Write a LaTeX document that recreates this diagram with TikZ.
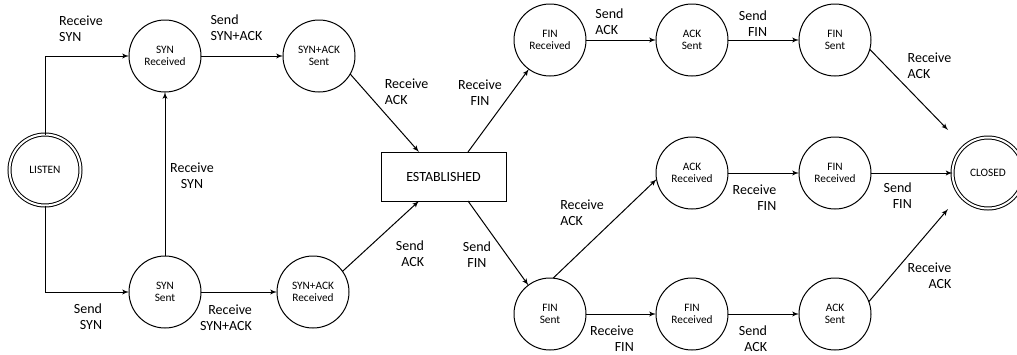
\documentclass[tikz,border=0pt]{standalone}
\usepackage{fontspec}
\setmainfont{Carlito}
\usetikzlibrary{arrows,positioning}
\tikzstyle{state} = [circle, draw, minimum size=54pt, inner sep=0pt, outer sep=0pt,
    align=center, font=\fontsize{8.5}{9.5}\selectfont]
\tikzstyle{final} = [state, double, double distance=1.5pt, minimum size=53.25pt]
\tikzstyle{block} = [rectangle, draw, minimum width=93.75pt, minimum height=36.75pt,
    outer sep=0pt, font=\fontsize{10.5}{12}\selectfont]
\tikzstyle{line} = [draw, -latex']
\tikzstyle{lbl} = [inner sep=0pt, font=\fontsize{10.5}{12}\selectfont]

\begin{document}
\begin{tikzpicture}[x=0.75pt, y=-0.75pt, line width=0.75pt]
    \useasboundingbox (0,0) rectangle (1017,354);
    % Place nodes
    \node [final] (listen) at (45,170) {LISTEN};
    \node [state] (synrcvd) at (165,56) {SYN\\Received};
    \node [state, right of=synrcvd, node distance=115.5pt] (synacksent) {SYN+ACK\\Sent};
    \node [state, below of=synrcvd, node distance=177pt] (synsent) {SYN\\Sent};
    \node [state, right of=synsent, node distance=111pt] (synackrcvd) {SYN+ACK\\Received};
    \node [block] (est) at (443.5,176.5) {ESTABLISHED};
    \node [state] (finrcvd1) at (550,40) {FIN\\Received};
    \node [state, right of=finrcvd1, node distance=106.5pt] (acksent1) {ACK\\Sent};
    \node [state, right of=acksent1, node distance=107.25pt] (finsent1) {FIN\\Sent};
    \node [state, below of=acksent1, node distance=99.75pt] (ackrcvd2) {ACK\\Received};
    \node [state, right of=ackrcvd2, node distance=107.25pt] (finrcvd2) {FIN\\Received};
    \node [state, below of=finrcvd1, node distance=205.5pt] (finsent3) {FIN\\Sent};
    \node [state, right of=finsent3, node distance=106.5pt] (finrcvd3) {FIN\\Received};
    \node [state, right of=finrcvd3, node distance=107.25pt] (acksent3) {ACK\\Sent};
    \node [final] (closed) at (988,173) {CLOSED};
    \coordinate (closedin1) at ([shift={(-40,-43)}]closed.center);
    \coordinate (closedin2) at ([shift={(-40,36)}]closed.center);
    % Draw edges
    \path [line] (listen.north) |- node [lbl, pos=0.75, align=left, shift={(-6,-27.5)}] {Receive\\SYN} (synrcvd.west);
    \path [line] (listen.south) |- node [lbl, pos=0.75, align=right, shift={(1,24.5)}] {Send\\SYN} (synsent.west);
    \path [line] (synrcvd.east) -- node [lbl, align=left, shift={(-5.5,-28)}] {Send\\SYN+ACK} (synacksent.west);
    \path [line] (synsent.north) -- node [lbl, align=center, shift={(27,2)}] {Receive\\SYN} (synrcvd.south);
    \path [line] (synsent.east) -- node [lbl, align=right, shift={(-13,25.5)}] {Receive\\SYN+ACK} (synackrcvd.west);
    \path [line] (synacksent.-30) -- node [lbl, align=left, shift={(22,-21)}] {Receive\\ACK} (est.135);
    \path [line] (synackrcvd.35) -- node [lbl, align=right, shift={(29.3,17.8)}] {Send\\ACK} (est.225);
    \path [line] (est.45) -- node [lbl, align=center, shift={(-18.4,-18)}] {Receive\\FIN} (finrcvd1.234);
    \path [line] (est.-45) -- node [lbl, align=center, shift={(-21.2,11.4)}] {Send\\FIN} (finsent3.127);
    \path [line] (finrcvd1.east) -- node [lbl, align=left, shift={(-11.5,-18.5)}] {Send\\ACK} (acksent1.west);
    \path [line] (acksent1.east) -- node [lbl, align=right, shift={(-10.5,-16.5)}] {Send\\FIN} (finsent1.west);
    \path [line] (finsent1.-15) -- node [lbl, align=left, shift={(20.6,-24.2)}] {Receive\\ACK} (closedin1);
    \path [line] (finsent3.85) -- node [lbl, align=left, shift={(-22.8,-16.2)}] {Receive\\ACK} (ackrcvd2.190);
    \path [line] (finsent3.east) -- node [lbl, align=right, shift={(-9,24.5)}] {Receive\\FIN} (finrcvd3.west);
    \path [line] (ackrcvd2.east) -- node [lbl, align=right, shift={(-9,25)}] {Receive\\FIN} (finrcvd2.west);
    \path [line] (finrcvd2.east) -- node [lbl, align=right, shift={(-14,23)}] {Send\\FIN} (closed.west);
    \path [line] (finrcvd3.east) -- node [lbl, align=right, shift={(-10.5,25)}] {Send\\ACK} (acksent3.west);
    \path [line] (acksent3.20) -- node [lbl, align=right, shift={(21.1,20.6)}] {Receive\\ACK} (closedin2);
\end{tikzpicture}
\end{document}
